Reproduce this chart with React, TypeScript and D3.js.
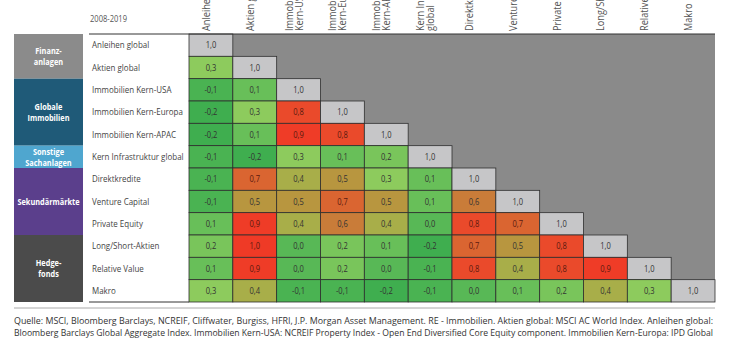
import React from "react";
import * as d3 from "d3";

const assets = [
  "Anleihen global",
  "Aktien global",
  "Immobilien Kern-USA",
  "Immobilien Kern-Europa",
  "Immobilien Kern-APAC",
  "Kern Infrastruktur global",
  "Direktkredite",
  "Venture Capital",
  "Private Equity",
  "Long/Short-Aktien",
  "Relative Value",
  "Makro",
];

const headerLines = [
  ["Anleihen global"],
  ["Aktien global"],
  ["Immobilien", "Kern-USA"],
  ["Immobilien", "Kern-Europa"],
  ["Immobilien", "Kern-APAC"],
  ["Kern Infrastruktur", "global"],
  ["Direktkredite"],
  ["Venture Capital"],
  ["Private Equity"],
  ["Long/Short-Aktien"],
  ["Relative Value"],
  ["Makro"],
];

const correlations: number[][] = [
  [1.0],
  [0.3, 1.0],
  [-0.1, 0.1, 1.0],
  [-0.2, 0.3, 0.8, 1.0],
  [-0.2, 0.1, 0.9, 0.8, 1.0],
  [-0.1, -0.2, 0.3, 0.1, 0.2, 1.0],
  [-0.1, 0.7, 0.4, 0.5, 0.3, 0.1, 1.0],
  [-0.1, 0.5, 0.5, 0.7, 0.5, 0.1, 0.6, 1.0],
  [0.1, 0.9, 0.4, 0.6, 0.4, 0.0, 0.8, 0.7, 1.0],
  [0.2, 1.0, 0.0, 0.2, 0.1, -0.2, 0.7, 0.5, 0.8, 1.0],
  [0.1, 0.9, 0.0, 0.2, 0.0, -0.1, 0.8, 0.4, 0.8, 0.9, 1.0],
  [0.3, 0.4, -0.1, -0.1, -0.2, -0.1, 0.0, 0.1, 0.2, 0.4, 0.3, 1.0],
];

const groups = [
  { lines: ["Finanz-", "anlagen"], start: 0, end: 1, color: "#8b8b8b" },
  { lines: ["Globale", "Immobilien"], start: 2, end: 4, color: "#1f5a78" },
  { lines: ["Sonstige", "Sachanlagen"], start: 5, end: 5, color: "#4fa6cf" },
  { lines: ["Sekundärmärkte"], start: 6, end: 8, color: "#5b3f8c" },
  { lines: ["Hedge-", "fonds"], start: 9, end: 11, color: "#4b4b4b" },
];

const periodLabel = "2008-2019";
const footnote = [
  "Quelle: MSCI, Bloomberg Barclays, NCREIF, Cliffwater, Burgiss, HFRI, J.P. Morgan Asset Management. RE - Immobilien. Aktien global: MSCI AC World Index. Anleihen global:",
  "Bloomberg Barclays Global Aggregate Index. Immobilien Kern-USA: NCREIF Property Index - Open End Diversified Core Equity component. Immobilien Kern-Europa: IPD Global",
];

const W = 730;
const H = 340;
const gridLeft = 189;
const gridRight = 715;
const gridTop = 34;
const gridBottom = 302;
const labelLeft = 89;
const groupLeft = 14;
const groupRight = 83;

const FONT = "'Open Sans', sans-serif";
const SQUEEZE = 0.84;

export default function App() {
  const x = d3.scaleBand<number>().domain(d3.range(assets.length)).range([gridLeft, gridRight]);
  const y = d3.scaleBand<number>().domain(d3.range(assets.length)).range([gridTop, gridBottom]);
  const color = d3
    .scaleLinear<string>()
    .domain([-0.2, -0.1, 0.0, 0.1, 0.2, 0.3, 0.4, 0.5, 0.6, 0.7, 0.8, 0.9, 1.0])
    .range([
      "#3fae4f", "#4ab352", "#58b856", "#68bf59", "#79c55b", "#8dcb5d",
      "#a8ae49", "#b8963f", "#c97c39", "#da6531", "#ea4a2b", "#ef3c27", "#ef3a26",
    ])
    .clamp(true);
  const fmt = (v: number) => d3.format(".1f")(v).replace(".", ",").replace("−", "-");

  const cells: { r: number; c: number; v: number }[] = [];
  correlations.forEach((row, r) => row.forEach((v, c) => cells.push({ r, c, v })));

  return (
    <svg width={W} height={H} style={{ position: "absolute", left: 0, top: 0, background: "#fff" }} fontFamily={FONT}>
      {/* period label */}
      <text transform={`translate(${labelLeft + 1},22) scale(${SQUEEZE},1)`} fontSize={9} fill="#555">{periodLabel}</text>

      {/* column headers */}
      {headerLines.map((lines, c) => {
        const cx = (x(c) as number) + x.bandwidth() / 2;
        return lines.map((ln, i) => {
          const off = lines.length === 1 ? 3 : (i === 0 ? -2 : 8);
          const tx = cx + off - 4;
          return (
            <text key={c + "-" + i} transform={`translate(${tx},${gridTop - 3}) rotate(-90) scale(0.92,1)`} fontSize={10} fill="#555">
              {ln}
            </text>
          );
        });
      })}

      {/* group boxes */}
      {groups.map((g, i) => {
        const y0 = y(g.start) as number;
        const y1 = (y(g.end) as number) + y.bandwidth();
        const cy = (y0 + y1) / 2;
        const n = g.lines.length;
        return (
          <g key={i}>
            <rect x={groupLeft} y={y0} width={groupRight - groupLeft} height={y1 - y0} fill={g.color} />
            {g.lines.map((ln, j) => (
              <text key={j}
                transform={`translate(${(groupLeft + groupRight) / 2},${cy + (j - (n - 1) / 2) * 11 + 3.3}) scale(0.8,1)`}
                textAnchor="middle" fontSize={9.2} fontWeight="bold" fill="#fff">
                {ln}
              </text>
            ))}
          </g>
        );
      })}

      {/* upper grey background */}
      <rect x={gridLeft} y={gridTop} width={gridRight - gridLeft} height={gridBottom - gridTop} fill="#8a8a8a" />

      {/* row labels */}
      {assets.map((a, r) => (
        <text key={a} transform={`translate(${labelLeft + 3},${(y(r) as number) + y.bandwidth() / 2 + 3.3}) scale(${SQUEEZE},1)`}
          fontSize={9.5} fill="#444">
          {a}
        </text>
      ))}

      {/* cells */}
      {cells.map(({ r, c, v }) => (
        <g key={r + "-" + c}>
          <rect x={x(c)} y={y(r)} width={x.bandwidth()} height={y.bandwidth()}
            fill={r === c ? "#c6c6c8" : color(v)} stroke="#2f2f2f" strokeWidth={0.8} />
          <text transform={`translate(${(x(c) as number) + x.bandwidth() / 2},${(y(r) as number) + y.bandwidth() / 2 + 3}) scale(${SQUEEZE},1)`}
            textAnchor="middle" fontSize={9} fill={v >= 0.7 && r !== c ? "#5a1a10" : "#333"}>
            {fmt(v)}
          </text>
        </g>
      ))}

      {/* lines */}
      <line x1={labelLeft} x2={gridRight} y1={gridTop} y2={gridTop} stroke="#333" strokeWidth={1} />
      <line x1={labelLeft} x2={gridLeft} y1={gridBottom} y2={gridBottom} stroke="#333" strokeWidth={1} />
      <line x1={groupLeft} x2={gridRight} y1={308} y2={308} stroke="#aaa" strokeWidth={1} />

      {/* footnote */}
      {footnote.map((ln, i) => (
        <text key={i} x={groupLeft} y={324 + i * 12} fontSize={8.5} fill="#333" textLength={gridRight - groupLeft - 2} lengthAdjust="spacingAndGlyphs">
          {ln}
        </text>
      ))}
    </svg>
  );
}
